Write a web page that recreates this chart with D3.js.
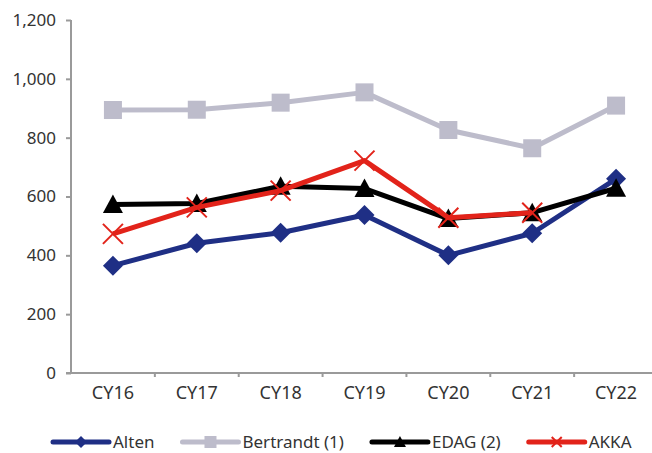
<!DOCTYPE html>
<html>
<head>
<meta charset="utf-8">
<script src="https://cdn.jsdelivr.net/npm/d3@7"></script>
<style>
  html, body { margin: 0; padding: 0; background: #fff; }
  svg { display: block; font-family: "Noto Sans", "Open Sans", sans-serif; font-weight: 400; }
</style>
</head>
<body>
<svg id="chart" width="652" height="453"></svg>
<script>
// Categories and series values
const years = ["CY16", "CY17", "CY18", "CY19", "CY20", "CY21", "CY22"];
const alten = [365, 441, 477, 537, 400, 475, 660];
const bertrandt = [894, 895, 919, 954, 826, 764, 909];
const edag = [573, 576, 635, 627, 525, 545, 628];
const akka = [473, 563, 620, 722, 528, 545, null];
const yTicks = [0, 200, 400, 600, 800, 1000, 1200];

const seriesNames = ["Alten", "Bertrandt (1)", "EDAG (2)", "AKKA"];
const seriesValues = [alten, bertrandt, edag, akka];
const seriesColors = ["#1f2f85", "#bdbccb", "#000000", "#e2231a"];
const seriesMarkers = ["diamond", "square", "triangle", "cross"];

const svg = d3.select("#chart");
const plotLeft = 71, plotRight = 658, plotTop = 20, plotBottom = 373;

const x = d3.scaleBand().domain(years).range([plotLeft, plotRight]);
const y = d3.scaleLinear().domain([0, 1200]).range([plotBottom, plotTop]);
const cx = d => x(d) + x.bandwidth() / 2;

const axisColor = "#9a9a9a";
const textColor = "#333333";
const fontStack = "'Noto Sans', 'Open Sans', sans-serif";

// Y axis
const yAxis = svg.append("g")
  .attr("transform", `translate(${plotLeft},0)`)
  .call(d3.axisLeft(y).tickValues(yTicks).tickSize(5).tickPadding(10)
    .tickFormat(d3.format(",")));
yAxis.select(".domain").attr("stroke", axisColor).attr("stroke-width", 2)
  .attr("d", `M0,${plotTop}V${plotBottom}`);
yAxis.selectAll(".tick line").attr("stroke", axisColor).attr("stroke-width", 2);
yAxis.selectAll(".tick text").attr("fill", textColor)
  .style("font-family", fontStack).style("font-size", "17px");

// X axis: labels centred in each band, ticks on the band boundaries
const xAxis = svg.append("g")
  .attr("transform", `translate(0,${plotBottom})`)
  .call(d3.axisBottom(x).tickSize(0).tickPadding(13));
xAxis.select(".domain").attr("stroke", axisColor).attr("stroke-width", 2)
  .attr("d", `M${plotLeft - 5},0H${plotRight}`);
xAxis.selectAll(".tick text").attr("fill", textColor)
  .style("font-family", fontStack).style("font-size", "18px");
xAxis.selectAll(".bound").data(years)
  .enter().append("line")
  .attr("class", "bound")
  .attr("x1", (d, i) => plotLeft + (i + 1) * x.step())
  .attr("x2", (d, i) => plotLeft + (i + 1) * x.step())
  .attr("y1", 0).attr("y2", 4)
  .attr("stroke", axisColor).attr("stroke-width", 2);

// Marker shapes
function marker(g, type, color, s) {
  if (type === "diamond") {
    g.append("path").attr("d", `M0,${-s}L${s},0L0,${s}L${-s},0Z`).attr("fill", color);
  } else if (type === "square") {
    g.append("rect").attr("x", -s).attr("y", -s).attr("width", 2 * s).attr("height", 2 * s)
      .attr("fill", color);
  } else if (type === "triangle") {
    g.append("path").attr("d", `M0,${-s}L${s},${s * 0.85}L${-s},${s * 0.85}Z`).attr("fill", color);
  } else if (type === "cross") {
    g.append("path").attr("d", `M${-s},${-s}L${s},${s}M${-s},${s}L${s},${-s}`)
      .attr("stroke", color).attr("stroke-width", 2).attr("fill", "none");
  }
}

const markerSize = { diamond: 10, square: 9, triangle: 10, cross: 10 };

// Lines and markers
seriesValues.forEach((vals, si) => {
  const pts = years.map((yr, i) => ({ yr, v: vals[i] })).filter(p => p.v != null);
  const line = d3.line().x(p => cx(p.yr)).y(p => y(p.v));
  const g = svg.append("g");
  g.append("path").datum(pts)
    .attr("d", line)
    .attr("fill", "none")
    .attr("stroke", seriesColors[si])
    .attr("stroke-width", 5)
    .attr("stroke-linejoin", "round");
  pts.forEach(p => {
    const m = g.append("g").attr("transform", `translate(${cx(p.yr)},${y(p.v)})`);
    marker(m, seriesMarkers[si], seriesColors[si], markerSize[seriesMarkers[si]]);
  });
});

// Legend
const legendY = 442;
let lx = 53;
seriesNames.forEach((name, si) => {
  const g = svg.append("g").attr("transform", `translate(${lx},${legendY})`);
  g.append("line").attr("x1", 0).attr("x2", 56).attr("y1", 0).attr("y2", 0)
    .attr("stroke", seriesColors[si]).attr("stroke-width", 5).attr("stroke-linecap", "round");
  const m = g.append("g").attr("transform", "translate(28,0)");
  marker(m, seriesMarkers[si], seriesColors[si], seriesMarkers[si] === "cross" ? 5 : 6);
  const t = g.append("text").attr("x", 60).attr("y", 6)
    .attr("fill", textColor).style("font-family", fontStack).style("font-size", "17px").text(name);
  lx += 60 + t.node().getComputedTextLength() + 28;
});
</script>
</body>
</html>
